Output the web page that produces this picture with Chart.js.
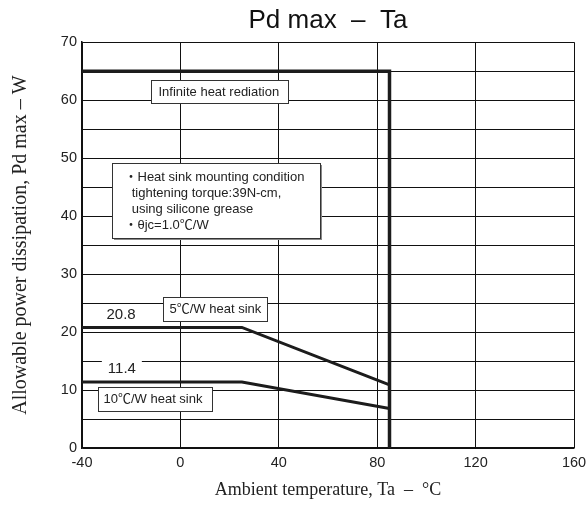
<!DOCTYPE html>
<html>
<head>
<meta charset="utf-8">
<script src="https://cdn.jsdelivr.net/npm/chart.js@4.4.1/dist/chart.umd.min.js"></script>
<style>
  html, body { margin: 0; padding: 0; background: #fff; }
  #wrap { width: 588px; height: 506px; }
</style>
</head>
<body>
<div id="wrap"><canvas id="chart" width="588" height="506"></canvas></div>
<script>
// Ambient temperature (°C) and allowable power dissipation (W)
const infiniteTa = [-40, 85, 85];
const infinitePd = [65, 65, 0];
const sink5Ta = [-40, 25, 85];
const sink5Pd = [20.8, 20.8, 10.9];
const sink10Ta = [-40, 25, 85];
const sink10Pd = [11.4, 11.4, 6.8];

const xTicks = [-40, 0, 40, 80, 120, 160];
const yTicks = [0, 10, 20, 30, 40, 50, 60, 70];

const SANS = "'Liberation Sans', Arial, 'Noto Sans CJK JP', sans-serif";
const SERIF = "'Liberation Serif', 'Times New Roman', serif";
const INK = "#1c1c1c";

function toPoints(xs, ys) {
  return xs.map((x, i) => ({ x: x, y: ys[i] }));
}

// boxes and labels placed at data coordinates (left, top)
const notes = [
  { x: -12.1, y: 63.4, w: 137, h: 23, lines: ["Infinite heat rediation"], dx: 7, lh: 16 },
  {
    x: -27.9, y: 49.2, w: 208, h: 75, dx: 12, lh: 16, shadow: true,
    lines: ["・Heat sink mounting condition", "  tightening torque:39N-cm,", "  using silicone grease", "・θjc=1.0℃/W"],
  },
  { x: -7.0, y: 26.0, w: 104, h: 24, lines: ["5℃/W heat sink"], dx: 6, lh: 16 },
  { x: -33.6, y: 10.6, w: 114, h: 24, lines: ["10℃/W heat sink"], dx: 5, lh: 16 },
];

const valueLabels = [
  { x: -24.1, y: 22.9, text: "20.8", bg: false },
  { x: -23.8, y: 13.6, text: "11.4", bg: true },
];

const notesPlugin = {
  id: "notes",
  afterDatasetsDraw(chart) {
    const { ctx, scales } = chart;
    ctx.save();
    ctx.font = "13px " + SANS;
    ctx.textBaseline = "middle";
    ctx.textAlign = "left";
    notes.forEach((n) => {
      const left = Math.round(scales.x.getPixelForValue(n.x)) + 0.5;
      const top = Math.round(scales.y.getPixelForValue(n.y)) + 0.5;
      if (n.shadow) {
        ctx.fillStyle = "#888";
        ctx.fillRect(left + 1.5, top + 1.5, n.w, n.h);
      }
      ctx.fillStyle = "#fff";
      ctx.fillRect(left, top, n.w, n.h);
      ctx.strokeStyle = "#333";
      ctx.lineWidth = 1;
      ctx.strokeRect(left, top, n.w, n.h);
      ctx.fillStyle = "#222";
      const startY = top + n.h / 2 - ((n.lines.length - 1) * n.lh) / 2;
      n.lines.forEach((line, i) => {
        ctx.fillText(line, left + n.dx, startY + i * n.lh);
      });
    });
    ctx.font = "15px " + SANS;
    ctx.textAlign = "center";
    valueLabels.forEach((v) => {
      const cx = scales.x.getPixelForValue(v.x);
      const cy = scales.y.getPixelForValue(v.y);
      if (v.bg) {
        ctx.fillStyle = "#fff";
        ctx.fillRect(cx - 20, cy - 11, 40, 20);
      }
      ctx.fillStyle = "#222";
      ctx.fillText(v.text, cx, cy);
    });
    ctx.restore();
  },
};

const lineStyle = {
  borderColor: INK,
  borderWidth: 3,
  pointRadius: 0,
  fill: false,
  tension: 0,
  borderJoinStyle: "miter",
};

new Chart(document.getElementById("chart"), {
  type: "line",
  data: {
    datasets: [
      Object.assign({ label: "Infinite heat rediation", data: toPoints(infiniteTa, infinitePd) }, lineStyle, { borderWidth: 3.5 }),
      Object.assign({ label: "5℃/W heat sink", data: toPoints(sink5Ta, sink5Pd) }, lineStyle),
      Object.assign({ label: "10℃/W heat sink", data: toPoints(sink10Ta, sink10Pd) }, lineStyle),
    ],
  },
  options: {
    responsive: false,
    animation: false,
    layout: { padding: { left: 0, right: 0, top: 0, bottom: 0 } },
    plugins: {
      legend: { display: false },
      tooltip: { enabled: false },
      title: {
        display: true,
        text: "Pd max  –  Ta",
        fullSize: false,
        color: "#111",
        font: { family: SANS, size: 26, weight: "normal", lineHeight: 1.2 },
        padding: { top: 5, bottom: 6 },
      },
    },
    scales: {
      x: {
        type: "linear",
        min: -40,
        max: 160,
        afterBuildTicks(scale) {
          scale.ticks = xTicks.map((v) => ({ value: v }));
        },
        afterFit(scale) {
          scale.height = 58;
          scale.paddingRight = 14;
        },
        grid: { color: "#111", lineWidth: 1, drawTicks: false },
        border: { color: "#111", width: 1.5 },
        ticks: {
          color: "#222",
          padding: 6,
          maxRotation: 0,
          font: { family: SANS, size: 14.5 },
        },
        title: {
          display: true,
          text: "Ambient temperature, Ta  –  °C",
          color: "#222",
          font: { family: SERIF, size: 18 },
          padding: { top: 0, bottom: 5 },
        },
      },
      y: {
        type: "linear",
        min: 0,
        max: 70,
        ticks: {
          stepSize: 5,
          color: "#222",
          padding: 5,
          font: { family: SANS, size: 14.5 },
          callback: (v) => (yTicks.includes(v) ? String(v) : ""),
        },
        afterFit(scale) {
          scale.width = 82;
        },
        grid: { color: "#111", lineWidth: 1, drawTicks: false },
        border: { color: "#111", width: 1.5 },
        title: {
          display: true,
          text: "Allowable power dissipation, Pd max – W",
          color: "#222",
          font: { family: SERIF, size: 20 },
          padding: { top: 9, bottom: 0 },
        },
      },
    },
  },
  plugins: [notesPlugin],
});
</script>
</body>
</html>
